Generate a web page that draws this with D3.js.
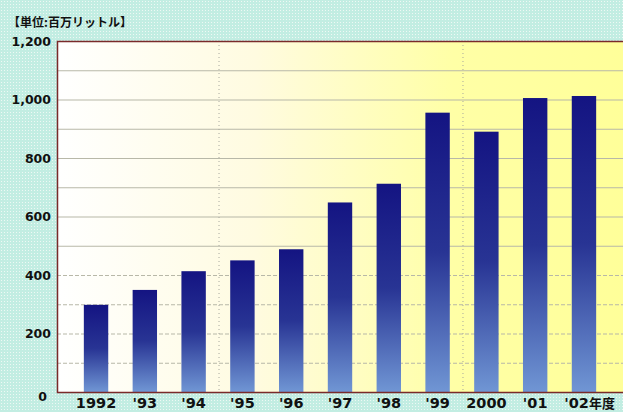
<!DOCTYPE html>
<html>
<head>
<meta charset="utf-8">
<script src="https://cdn.jsdelivr.net/npm/d3@7"></script>
<style>
  body { margin: 0; padding: 0; background: #fff; }
  svg { display: block; }
</style>
</head>
<body>
<svg id="chart" width="623" height="412"></svg>
<script>
// fiscal years and volumes (million litres)
var years  = ["1992", "'93", "'94", "'95", "'96", "'97", "'98", "'99", "2000", "'01", "'02"];
var values = [298, 349, 413, 450, 488, 648, 712, 955, 890, 1005, 1012];
var yTicks = [0, 200, 400, 600, 800, 1000, 1200];
var gridTicks = [100, 200, 300, 400, 500, 600, 700, 800, 900, 1000, 1100];
var dividers = ["'95", "2000"];   // dotted separators before these years
var unitLabel = "【単位:百万リットル】";
var yearSuffix = "年度";

var W = 623, H = 412;
var plotL = 57, plotT = 41, plotR = 623, plotB = 392;
var numFont = "'DejaVu Sans', sans-serif";
var jpFont = "'Noto Sans CJK JP', sans-serif";

var svg = d3.select("#chart");
var defs = svg.append("defs");

// dithered cyan background
var pat = defs.append("pattern").attr("id", "dots")
  .attr("width", 3).attr("height", 3).attr("patternUnits", "userSpaceOnUse");
pat.append("rect").attr("width", 3).attr("height", 3).attr("fill", "#c2ede2");
pat.append("rect").attr("x", 1).attr("y", 1).attr("width", 1).attr("height", 1).attr("fill", "#eef8f4");

var bg = defs.append("linearGradient").attr("id", "plotbg")
  .attr("x1", "0%").attr("x2", "100%").attr("y1", "0%").attr("y2", "0%");
bg.append("stop").attr("offset", "0%").attr("stop-color", "#ffffff");
bg.append("stop").attr("offset", "35%").attr("stop-color", "#fffbe0");
bg.append("stop").attr("offset", "70%").attr("stop-color", "#ffffa6");
bg.append("stop").attr("offset", "100%").attr("stop-color", "#ffff99");

var barGrad = defs.append("linearGradient").attr("id", "bar")
  .attr("x1", "0%").attr("x2", "0%").attr("y1", "0%").attr("y2", "100%");
barGrad.append("stop").attr("offset", "0%").attr("stop-color", "#141482");
barGrad.append("stop").attr("offset", "50%").attr("stop-color", "#283494");
barGrad.append("stop").attr("offset", "100%").attr("stop-color", "#7096d4");

svg.append("rect").attr("width", W).attr("height", H).attr("fill", "url(#dots)");

var x = d3.scaleBand().domain(years).range([plotL, plotR])
  .paddingInner(0.5).paddingOuter(0.55);
var y = d3.scaleLinear().domain([0, 1200]).range([plotB, plotT]);

svg.append("rect")
  .attr("x", plotL).attr("y", plotT)
  .attr("width", plotR - plotL).attr("height", plotB - plotT)
  .attr("fill", "url(#plotbg)");

// grid
svg.append("g").selectAll("line").data(gridTicks).join("line")
  .attr("x1", plotL).attr("x2", plotR)
  .attr("y1", function (d) { return y(d) + 0.5; })
  .attr("y2", function (d) { return y(d) + 0.5; })
  .attr("stroke", "#b8b8a8").attr("stroke-width", 1.2)
  .attr("stroke-dasharray", function (d) { return d <= 400 ? "4,2" : null; });

// dotted separators
svg.append("g").selectAll("line").data(dividers).join("line")
  .attr("x1", function (d) { return x(d) - x.step() * x.paddingInner() / 2 + 1; })
  .attr("x2", function (d) { return x(d) - x.step() * x.paddingInner() / 2 + 1; })
  .attr("y1", plotT).attr("y2", plotB)
  .attr("stroke", "#a8a8a0").attr("stroke-width", 1)
  .attr("stroke-dasharray", "1,3");

// bars
svg.append("g").selectAll("rect").data(values).join("rect")
  .attr("x", function (d, i) { return x(years[i]); })
  .attr("y", function (d) { return y(d); })
  .attr("width", x.bandwidth())
  .attr("height", function (d) { return y(0) - y(d); })
  .attr("fill", "url(#bar)");

// frame
svg.append("path")
  .attr("d", "M" + plotR + "," + (plotT + 0.5) + "H" + (plotL + 0.5) + "V" + (plotB + 0.5) + "H" + plotR)
  .attr("fill", "none").attr("stroke", "#7a2a2a").attr("stroke-width", 1.5);

// y labels
var yAxis = d3.axisLeft(y).tickValues(yTicks).tickSize(0).tickPadding(5)
  .tickFormat(d3.format(","));
var ya = svg.append("g").attr("transform", "translate(" + (plotL - 1) + ",0)").call(yAxis);
ya.select(".domain").remove();
ya.selectAll("text").attr("font-size", 12.5).attr("fill", "#111")
  .style("font-family", numFont).style("font-weight", "bold");
ya.selectAll(".tick").filter(function (d) { return d === 0; })
  .select("text").attr("dx", -4).attr("dy", "0.7em");

// x labels
var xAxis = d3.axisBottom(x).tickSize(0).tickPadding(6);
var xa = svg.append("g").attr("transform", "translate(0," + plotB + ")").call(xAxis);
xa.select(".domain").remove();
xa.selectAll("text").attr("font-size", 14.5).attr("fill", "#111")
  .style("font-family", numFont).style("font-weight", "bold");

// last year label shifted left, followed by the 年度 suffix
var lastYear = years[years.length - 1];
var lastX = x(lastYear) + x.bandwidth() / 2 + 5;
xa.selectAll(".tick").filter(function (d) { return d === lastYear; })
  .select("text").attr("text-anchor", "end").attr("x", 5);
xa.append("text")
  .attr("x", lastX).attr("y", 6).attr("dy", "0.75em")
  .attr("text-anchor", "start")
  .attr("font-size", 13).attr("fill", "#111")
  .style("font-family", jpFont).style("font-weight", "bold")
  .text(yearSuffix);

// unit label
svg.append("text")
  .attr("x", 8).attr("y", 27)
  .attr("font-size", 12).attr("fill", "#111")
  .style("font-family", jpFont).style("font-weight", "bold")
  .text(unitLabel);
</script>
</body>
</html>
